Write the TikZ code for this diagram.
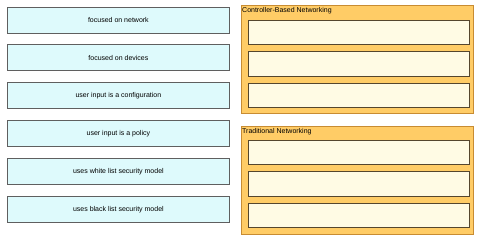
\documentclass[tikz,border=0pt]{standalone}
\usepackage{fontspec}
\setmainfont{Liberation Sans}
\definecolor{itemfill}{RGB}{222,250,252}
\definecolor{itemdraw}{RGB}{95,95,95}
\definecolor{panelfill}{RGB}{255,204,102}
\definecolor{paneldraw}{RGB}{200,140,50}
\definecolor{slotfill}{RGB}{255,251,228}
\definecolor{slotdraw}{RGB}{85,70,45}
\begin{document}
\begin{tikzpicture}[x=1pt,y=-1pt,
  item/.style={draw=itemdraw,line width=0.8pt,fill=itemfill,minimum width=222pt,minimum height=26pt,anchor=north west,inner sep=0pt,font=\fontsize{7}{8}\selectfont},
  panel/.style={draw=paneldraw,line width=0.8pt,fill=panelfill,anchor=north west,minimum width=232pt,minimum height=108pt,inner sep=0pt},
  slot/.style={draw=slotdraw,line width=0.9pt,fill=slotfill,minimum width=221pt,minimum height=24.5pt,anchor=north west,inner sep=0pt},
  ptitle/.style={anchor=north west,inner sep=0pt,font=\fontsize{7}{8}\selectfont}]
\useasboundingbox (0,0) rectangle (477,240);
\fill[white] (0,0) rectangle (477,240);
% left items
\node[item] (i1) at (7,7) {focused on network};
\node[item] (i2) at (7,44.5) {focused on devices};
\node[item] (i3) at (7,82) {user input is a configuration};
\node[item] (i4) at (7,120) {user input is a policy};
\node[item] (i5) at (7,158) {uses white list security model};
\node[item] (i6) at (7,196) {uses black list security model};
% panel 1
\node[panel] (p1) at (241,5) {};
\node[ptitle] (t1) at (242,7.5) {Controller-Based Networking};
\node[slot] (s1) at (248,20) {};
\node[slot] (s2) at (248,51.5) {};
\node[slot] (s3) at (248,83) {};
% panel 2
\node[panel] (p2) at (241,126) {};
\node[ptitle] (t2) at (242,128.5) {Traditional Networking};
\node[slot] (s4) at (248,140) {};
\node[slot] (s5) at (248,171.5) {};
\node[slot] (s6) at (248,203) {};
\end{tikzpicture}
\end{document}
